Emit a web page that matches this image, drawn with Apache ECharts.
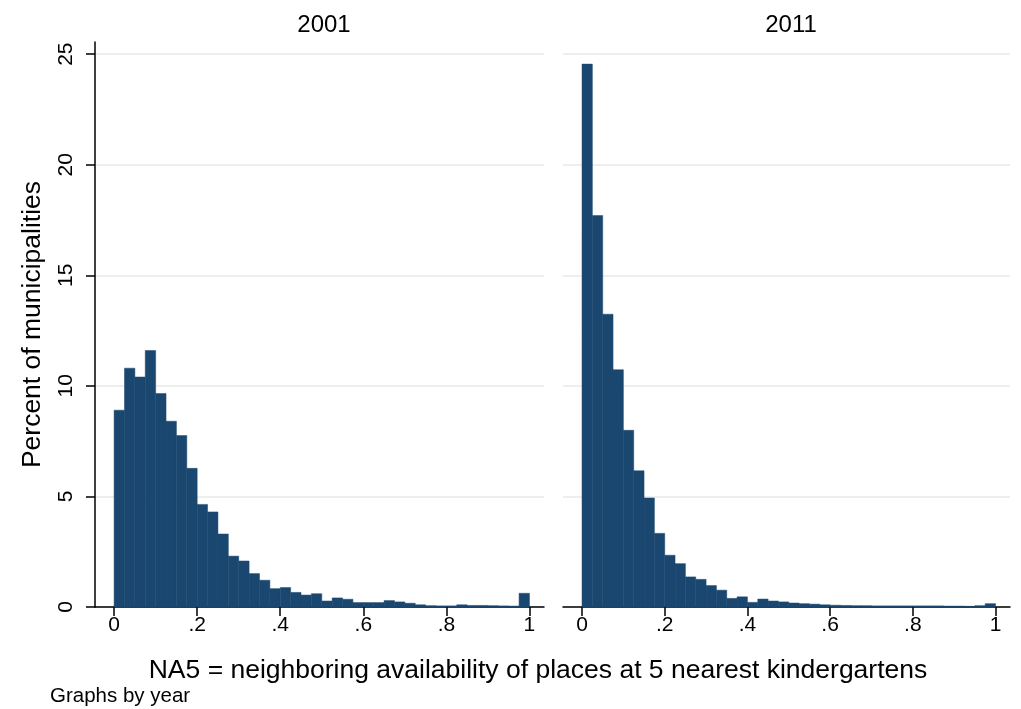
<!DOCTYPE html>
<html>
<head>
<meta charset="utf-8">
<script src="https://cdn.jsdelivr.net/npm/echarts@6/dist/echarts.min.js"></script>
<style>
    html, body { margin: 0; padding: 0; background: #fff; }
    #main { width: 1021px; height: 709px; }
</style>
</head>
<body>
<div id="main"></div>
<script>
// 直方图数据（组宽 0.025，共 40 组）
var binWidth = 0.025;
var years = ['2001', '2011'];
var pct2001 = [8.9, 10.8, 10.4, 11.6, 9.65, 8.4, 7.75, 6.27, 4.64, 4.3,
    3.3, 2.3, 2.08, 1.51, 1.21, 0.83, 0.88, 0.66, 0.54, 0.6,
    0.27, 0.41, 0.35, 0.2, 0.2, 0.2, 0.29, 0.23, 0.17, 0.1,
    0.06, 0.05, 0.05, 0.1, 0.07, 0.07, 0.06, 0.05, 0.04, 0.62];
var pct2011 = [24.55, 17.7, 13.24, 10.73, 7.99, 6.16, 4.93, 3.33, 2.34, 1.96,
    1.36, 1.25, 0.97, 0.76, 0.39, 0.46, 0.21, 0.36, 0.27, 0.23,
    0.18, 0.15, 0.13, 0.1, 0.08, 0.07, 0.06, 0.06, 0.05, 0.05,
    0.05, 0.05, 0.05, 0.05, 0.05, 0.04, 0.04, 0.03, 0.06, 0.15];
var xTickValues = [0, 0.2, 0.4, 0.6, 0.8, 1];
var xTicks = ['0', '.2', '.4', '.6', '.8', '1'];
var yTickValues = [0, 5, 10, 15, 20, 25];

var barColor = '#1a476f';
var font = 'Liberation Sans, Arial, sans-serif';

function toBins(arr) {
    var out = [];
    for (var i = 0; i < arr.length; i++) {
        out.push([i * binWidth, (i + 1) * binWidth, arr[i]]);
    }
    return out;
}

function renderBar(params, api) {
    var p0 = api.coord([api.value(0), api.value(2)]);
    var p1 = api.coord([api.value(1), 0]);
    return {
        type: 'rect',
        shape: { x: p0[0], y: p0[1], width: p1[0] - p0[0], height: p1[1] - p0[1] },
        style: { fill: barColor, stroke: barColor, lineWidth: 0.5 }
    };
}

function xAxisFor(idx) {
    return {
        type: 'value', gridIndex: idx, min: -0.046, max: 1.035,
        axisLine: { onZero: false, lineStyle: { color: '#000', width: 1.5 } },
        axisTick: { show: true, length: 9, lineStyle: { color: '#000', width: 1.5 },
            customValues: xTickValues },
        axisLabel: { color: '#000', fontSize: 21, fontFamily: font, margin: 8,
            customValues: xTickValues,
            formatter: function (v) { return xTicks[Math.round(v / 0.2)]; } },
        splitLine: { show: false }
    };
}

function yAxisFor(idx, showAxis) {
    return {
        type: 'value', gridIndex: idx, min: 0, max: 25.55,
        name: showAxis ? 'Percent of municipalities' : '',
        nameLocation: 'middle', nameGap: 49, nameRotate: 90,
        nameTextStyle: { color: '#000', fontSize: 26.5, fontFamily: font },
        axisLine: { show: showAxis, onZero: false, lineStyle: { color: '#000', width: 1.5 } },
        axisTick: { show: showAxis, length: 9, customValues: yTickValues,
            lineStyle: { color: '#000', width: 1.5 } },
        axisLabel: { show: showAxis, rotate: 90, color: '#000', fontSize: 21, fontFamily: font,
            margin: 18, customValues: yTickValues },
        splitLine: { show: true, lineStyle: { color: '#e8e8e8', width: 1.5 } }
    };
}

var myChart = echarts.init(document.getElementById('main'));
var option = {
    backgroundColor: '#fff',
    animation: false,
    title: [
        { text: years[0], left: 319, top: 8, textAlign: 'center',
          textStyle: { fontSize: 24, fontWeight: 'normal', color: '#000', fontFamily: font } },
        { text: years[1], left: 786, top: 8, textAlign: 'center',
          textStyle: { fontSize: 24, fontWeight: 'normal', color: '#000', fontFamily: font } },
        { text: 'NA5 = neighboring availability of places at 5 nearest kindergartens', left: 533, top: 652, textAlign: 'center',
          textStyle: { fontSize: 26.5, fontWeight: 'normal', color: '#000', fontFamily: font } },
        { text: 'Graphs by year', left: 50, top: 686, padding: 0,
          textStyle: { fontSize: 20.5, fontWeight: 'normal', color: '#000', fontFamily: font } }
    ],
    grid: [
        { left: 95, top: 42, width: 449, height: 565 },
        { left: 563, top: 42, width: 447, height: 565 }
    ],
    xAxis: [xAxisFor(0), xAxisFor(1)],
    yAxis: [yAxisFor(0, true), yAxisFor(1, false)],
    series: [
        { name: years[0], type: 'custom', xAxisIndex: 0, yAxisIndex: 0,
          renderItem: renderBar, encode: { x: [0, 1], y: 2 }, data: toBins(pct2001) },
        { name: years[1], type: 'custom', xAxisIndex: 1, yAxisIndex: 1,
          renderItem: renderBar, encode: { x: [0, 1], y: 2 }, data: toBins(pct2011) }
    ]
};
myChart.setOption(option);
</script>
</body>
</html>
